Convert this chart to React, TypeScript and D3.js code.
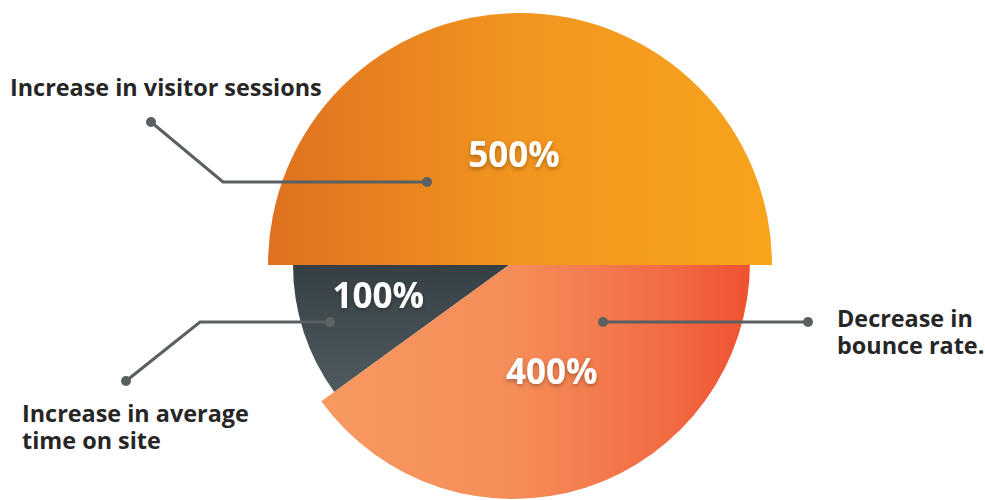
import React from "react";
import * as d3 from "d3";

// ---- data ----
const categories = [
  "Increase in visitor sessions",
  "Decrease in bounce rate.",
  "Increase in average time on site",
];
const values = [500, 400, 100];
const valueLabels = ["500%", "400%", "100%"];
const labelLines: string[][] = [
  ["Increase in visitor sessions"],
  ["Decrease in", "bounce rate."],
  ["Increase in average", "time on site"],
];

// ---- layout / style ----
const W = 985;
const H = 500;
const CX = 515;
const CY = 265;
const FONT = "'Open Sans', 'Noto Sans', sans-serif";

const sliceStyle = [
  { r: 252, dx: 5, dy: 0, grad: "gOrange", labelR: 110, labelShift: -0.5 },
  { r: 237, dx: -2, dy: -3, grad: "gSalmon", labelR: 113, labelShift: -1 },
  { r: 216, dx: -6, dy: 0, grad: "gDark", labelR: 140, labelShift: 5.6 },
];
// draw order: dark first, salmon, orange on top
const drawOrder = [2, 1, 0];

// annotation leader geometry
const leaders = [
  { pts: [[427, 182], [223, 182], [151, 122]], text: { x: 10, y: 96 } },
  { pts: [[603, 322], [808, 322]], text: { x: 837, y: 327 } },
  { pts: [[330, 322], [200, 322], [126, 381]], text: { x: 22, y: 422 } },
];
const LINE_GAP = 27;

export default function App() {
  const pie = d3
    .pie<number>()
    .sort(null)
    .value((d) => d)
    .startAngle(-Math.PI / 2)
    .endAngle((3 * Math.PI) / 2);
  const arcs = pie(values);

  const line = d3.line();

  return (
    <svg
      width={W}
      height={H}
      style={{ position: "absolute", left: 0, top: 0, display: "block", background: "#fff" }}
      fontFamily={FONT}
    >
      <defs>
        <linearGradient id="gOrange" x1="0" y1="0" x2="1" y2="0">
          <stop offset="0" stopColor="#de7120" />
          <stop offset="0.5" stopColor="#f2951f" />
          <stop offset="1" stopColor="#f8a41c" />
        </linearGradient>
        <linearGradient id="gSalmon" x1="0" y1="0" x2="1" y2="0">
          <stop offset="0" stopColor="#f89962" />
          <stop offset="0.45" stopColor="#f58d59" />
          <stop offset="0.8" stopColor="#f26c43" />
          <stop offset="1" stopColor="#ee5232" />
        </linearGradient>
        <linearGradient id="gDark" x1="0" y1="0" x2="0" y2="1">
          <stop offset="0" stopColor="#364044" />
          <stop offset="1" stopColor="#505b5f" />
        </linearGradient>
        <filter id="tshadow" x="-20%" y="-30%" width="140%" height="160%">
          <feDropShadow dx={0} dy={2} stdDeviation={2} floodColor="#000" floodOpacity={0.3} />
        </filter>
      </defs>

      {drawOrder.map((i) => {
        const a = arcs[i];
        const s = sliceStyle[i];
        const arcGen = d3.arc<d3.PieArcDatum<number>>().innerRadius(0).outerRadius(s.r);
        return (
          <path
            key={categories[i]}
            d={arcGen(a) || ""}
            transform={`translate(${CX + s.dx},${CY + s.dy})`}
            fill={`url(#${s.grad})`}
          />
        );
      })}

      {arcs.map((a, i) => {
        const s = sliceStyle[i];
        const mid = (a.startAngle + a.endAngle) / 2 + (s.labelShift * Math.PI) / 180;
        const x = CX + s.labelR * Math.sin(mid);
        const y = CY - s.labelR * Math.cos(mid);
        return (
          <text
            key={valueLabels[i]}
            x={x}
            y={y}
            dy="0.357em"
            textAnchor="middle"
            fill="#fff"
            fontSize={35}
            fontWeight={700}
            filter="url(#tshadow)"
          >
            {valueLabels[i]}
          </text>
        );
      })}

      {leaders.map((l, i) => (
        <g key={"lead" + i}>
          <path
            d={line(l.pts as [number, number][]) || ""}
            fill="none"
            stroke="#5a5f61"
            strokeWidth={3}
          />
          <circle cx={l.pts[0][0]} cy={l.pts[0][1]} r={5} fill={i === 2 ? "#5d6466" : "#5a5f61"} />
          <circle
            cx={l.pts[l.pts.length - 1][0]}
            cy={l.pts[l.pts.length - 1][1]}
            r={5}
            fill="#5a5f61"
          />
          {labelLines[i].map((t, k) => (
            <text
              key={t}
              x={l.text.x}
              y={l.text.y + k * LINE_GAP}
              fill="#262626"
              fontSize={23.4}
              fontWeight={700}
            >
              {t}
            </text>
          ))}
        </g>
      ))}
    </svg>
  );
}
